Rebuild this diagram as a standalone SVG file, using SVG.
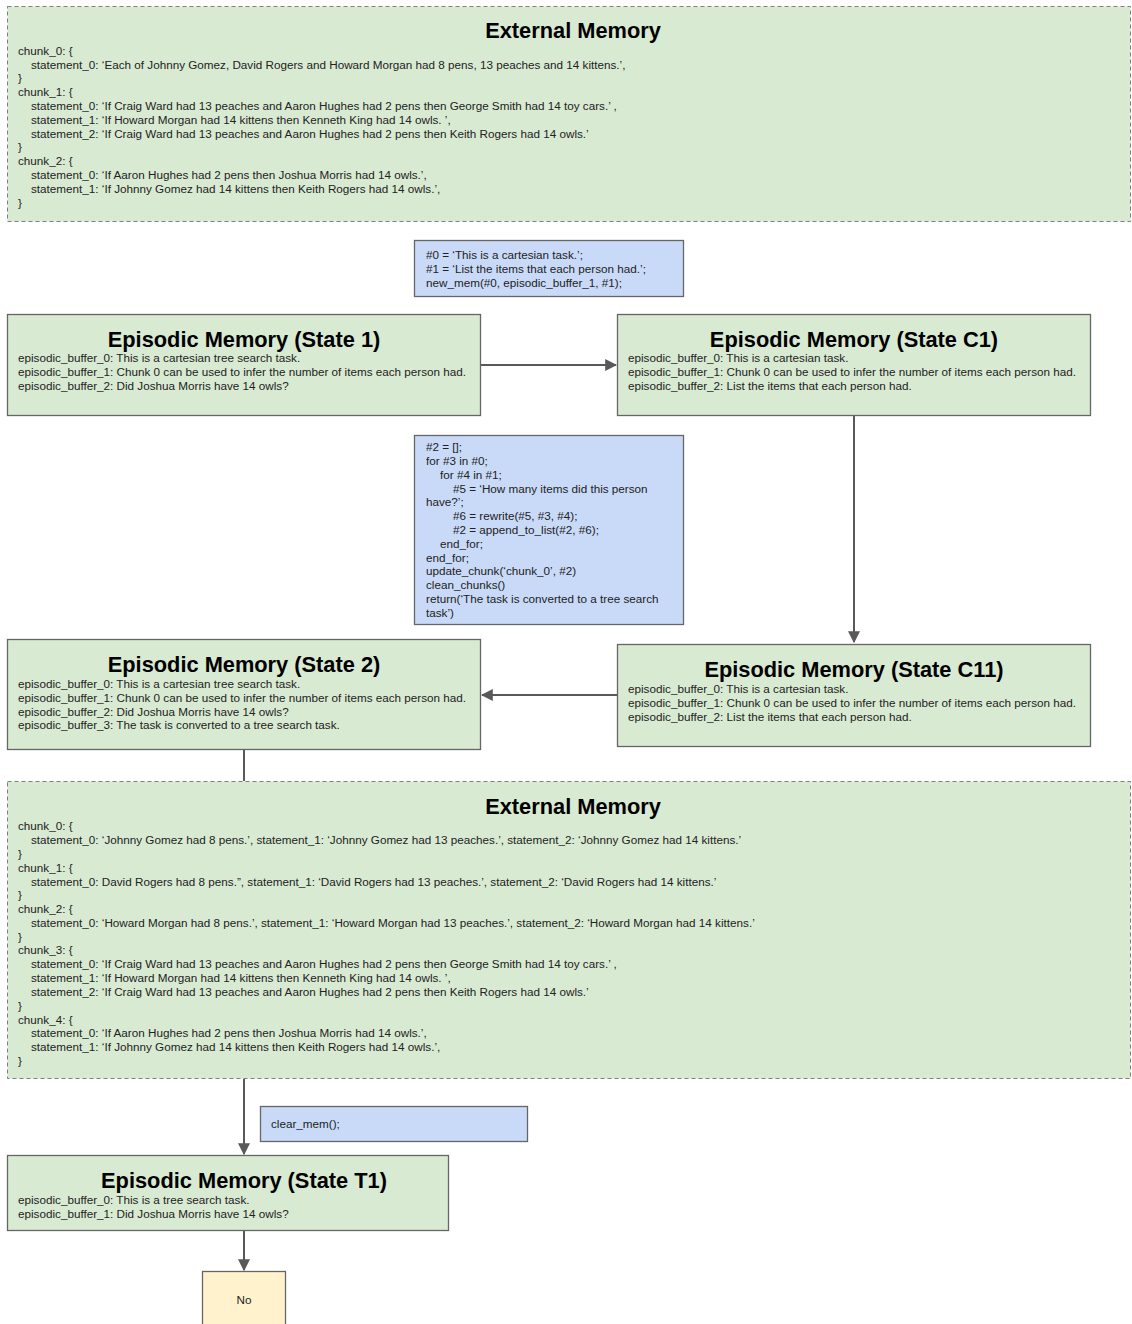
<svg xmlns="http://www.w3.org/2000/svg" width="1132" height="1324" viewBox="0 0 1132 1324">
<defs>
<style>
.ext{fill:#d9ead3;stroke:#7f7f7f;stroke-width:1;stroke-dasharray:4 3}
.ep{fill:#d9ead3;stroke:#666;stroke-width:1.3}
.op{fill:#c9daf8;stroke:#666;stroke-width:1.3}
.ans{fill:#fff2cc;stroke:#666;stroke-width:1.3}
.t{font-family:"Liberation Sans",Arial,sans-serif;font-size:11.7px;fill:#222}
.h{font-family:"Liberation Sans",Arial,sans-serif;font-size:21.8px;font-weight:bold;fill:#000;text-anchor:middle}
.c{fill:none;stroke:#595959;stroke-width:2}
</style>
<marker id="arr" viewBox="0 0 10 10" refX="9" refY="5" markerWidth="6" markerHeight="6" orient="auto" markerUnits="strokeWidth">
<path d="M0,0 L10,5 L0,10 z" fill="#595959"/>
</marker>
</defs>
<rect width="1132" height="1324" fill="#fff"/>

<g id="connectors">
<line class="c" x1="481" y1="365" x2="616" y2="365" marker-end="url(#arr)"/>
<line class="c" x1="854" y1="416" x2="854" y2="642" marker-end="url(#arr)"/>
<line class="c" x1="617" y1="695" x2="482" y2="695" marker-end="url(#arr)"/>
<line class="c" x1="244" y1="750" x2="244" y2="781"/>
<line class="c" x1="244" y1="1079" x2="244" y2="1154" marker-end="url(#arr)"/>
<line class="c" x1="244" y1="1230" x2="244" y2="1270" marker-end="url(#arr)"/>
</g>

<g id="ext1">
<rect class="ext" x="7.5" y="6.5" width="1123" height="215"/>
<text class="h" x="573" y="38">External Memory</text>
<text class="t" x="18" y="55">chunk_0: {</text>
<text class="t" x="31" y="69">statement_0: ‘Each of Johnny Gomez, David Rogers and Howard Morgan had 8 pens, 13 peaches and 14 kittens.’,</text>
<text class="t" x="18" y="82">}</text>
<text class="t" x="18" y="96">chunk_1: {</text>
<text class="t" x="31" y="110">statement_0: ‘If Craig Ward had 13 peaches and Aaron Hughes had 2 pens then George Smith had 14 toy cars.’ ,</text>
<text class="t" x="31" y="124">statement_1: ‘If Howard Morgan had 14 kittens then Kenneth King had 14 owls. ’,</text>
<text class="t" x="31" y="138">statement_2: ‘If Craig Ward had 13 peaches and Aaron Hughes had 2 pens then Keith Rogers had 14 owls.’</text>
<text class="t" x="18" y="151">}</text>
<text class="t" x="18" y="165">chunk_2: {</text>
<text class="t" x="31" y="179">statement_0: ‘If Aaron Hughes had 2 pens then Joshua Morris had 14 owls.’,</text>
<text class="t" x="31" y="193">statement_1: ‘If Johnny Gomez had 14 kittens then Keith Rogers had 14 owls.’,</text>
<text class="t" x="18" y="207">}</text>
</g>

<g id="op1">
<rect class="op" x="414.5" y="240.5" width="269" height="56"/>
<text class="t" x="426" y="259">#0 = ‘This is a cartesian task.’;</text>
<text class="t" x="426" y="273">#1 = ‘List the items that each person had.’;</text>
<text class="t" x="426" y="287">new_mem(#0, episodic_buffer_1, #1);</text>
</g>

<g id="state1">
<rect class="ep" x="7.5" y="314.5" width="473" height="101"/>
<text class="h" x="244" y="347">Episodic Memory (State 1)</text>
<text class="t" x="18" y="362">episodic_buffer_0: This is a cartesian tree search task.</text>
<text class="t" x="18" y="376">episodic_buffer_1: Chunk 0 can be used to infer the number of items each person had.</text>
<text class="t" x="18" y="390">episodic_buffer_2: Did Joshua Morris have 14 owls?</text>
</g>

<g id="stateC1">
<rect class="ep" x="617.5" y="314.5" width="473" height="101"/>
<text class="h" x="854" y="347">Episodic Memory (State C1)</text>
<text class="t" x="628" y="362">episodic_buffer_0: This is a cartesian task.</text>
<text class="t" x="628" y="376">episodic_buffer_1: Chunk 0 can be used to infer the number of items each person had.</text>
<text class="t" x="628" y="390">episodic_buffer_2: List the items that each person had.</text>
</g>

<g id="op2">
<rect class="op" x="414.5" y="435.5" width="269" height="189"/>
<text class="t" x="426" y="451">#2 = [];</text>
<text class="t" x="426" y="465">for #3 in #0;</text>
<text class="t" x="440" y="479">for #4 in #1;</text>
<text class="t" x="453" y="493">#5 = ‘How many items did this person</text>
<text class="t" x="426" y="506">have?’;</text>
<text class="t" x="453" y="520">#6 = rewrite(#5, #3, #4);</text>
<text class="t" x="453" y="534">#2 = append_to_list(#2, #6);</text>
<text class="t" x="440" y="548">end_for;</text>
<text class="t" x="426" y="562">end_for;</text>
<text class="t" x="426" y="575">update_chunk(‘chunk_0’, #2)</text>
<text class="t" x="426" y="589">clean_chunks()</text>
<text class="t" x="426" y="603">return(‘The task is converted to a tree search</text>
<text class="t" x="426" y="617">task’)</text>
</g>

<g id="state2">
<rect class="ep" x="7.5" y="639.5" width="473" height="110"/>
<text class="h" x="244" y="672">Episodic Memory (State 2)</text>
<text class="t" x="18" y="688">episodic_buffer_0: This is a cartesian tree search task.</text>
<text class="t" x="18" y="702">episodic_buffer_1: Chunk 0 can be used to infer the number of items each person had.</text>
<text class="t" x="18" y="716">episodic_buffer_2: Did Joshua Morris have 14 owls?</text>
<text class="t" x="18" y="729">episodic_buffer_3: The task is converted to a tree search task.</text>
</g>

<g id="stateC11">
<rect class="ep" x="617.5" y="644.5" width="473" height="102"/>
<text class="h" x="854" y="677">Episodic Memory (State C11)</text>
<text class="t" x="628" y="693">episodic_buffer_0: This is a cartesian task.</text>
<text class="t" x="628" y="707">episodic_buffer_1: Chunk 0 can be used to infer the number of items each person had.</text>
<text class="t" x="628" y="721">episodic_buffer_2: List the items that each person had.</text>
</g>

<g id="ext2">
<rect class="ext" x="7.5" y="781.5" width="1123" height="297"/>
<text class="h" x="573" y="814">External Memory</text>
<text class="t" x="18" y="830">chunk_0: {</text>
<text class="t" x="31" y="844">statement_0: ‘Johnny Gomez had 8 pens.’, statement_1: ‘Johnny Gomez had 13 peaches.’, statement_2: ‘Johnny Gomez had 14 kittens.’</text>
<text class="t" x="18" y="858">}</text>
<text class="t" x="18" y="872">chunk_1: {</text>
<text class="t" x="31" y="886">statement_0: David Rogers had 8 pens.”, statement_1: ‘David Rogers had 13 peaches.’, statement_2: ‘David Rogers had 14 kittens.’</text>
<text class="t" x="18" y="899">}</text>
<text class="t" x="18" y="913">chunk_2: {</text>
<text class="t" x="31" y="927">statement_0: ‘Howard Morgan had 8 pens.’, statement_1: ‘Howard Morgan had 13 peaches.’, statement_2: ‘Howard Morgan had 14 kittens.’</text>
<text class="t" x="18" y="941">}</text>
<text class="t" x="18" y="954">chunk_3: {</text>
<text class="t" x="31" y="968">statement_0: ‘If Craig Ward had 13 peaches and Aaron Hughes had 2 pens then George Smith had 14 toy cars.’ ,</text>
<text class="t" x="31" y="982">statement_1: ‘If Howard Morgan had 14 kittens then Kenneth King had 14 owls. ’,</text>
<text class="t" x="31" y="996">statement_2: ‘If Craig Ward had 13 peaches and Aaron Hughes had 2 pens then Keith Rogers had 14 owls.’</text>
<text class="t" x="18" y="1010">}</text>
<text class="t" x="18" y="1024">chunk_4: {</text>
<text class="t" x="31" y="1037">statement_0: ‘If Aaron Hughes had 2 pens then Joshua Morris had 14 owls.’,</text>
<text class="t" x="31" y="1051">statement_1: ‘If Johnny Gomez had 14 kittens then Keith Rogers had 14 owls.’,</text>
<text class="t" x="18" y="1065">}</text>
</g>

<g id="op3">
<rect class="op" x="260.5" y="1106.5" width="267" height="35"/>
<text class="t" x="271" y="1128">clear_mem();</text>
</g>

<g id="stateT1">
<rect class="ep" x="7.5" y="1155.5" width="441" height="75"/>
<text class="h" x="244" y="1188">Episodic Memory (State T1)</text>
<text class="t" x="18" y="1204">episodic_buffer_0: This is a tree search task.</text>
<text class="t" x="18" y="1218">episodic_buffer_1: Did Joshua Morris have 14 owls?</text>
</g>

<g id="answer">
<rect class="ans" x="202.5" y="1271.5" width="83" height="60"/>
<text class="t" x="244" y="1304" text-anchor="middle">No</text>
</g>
</svg>
